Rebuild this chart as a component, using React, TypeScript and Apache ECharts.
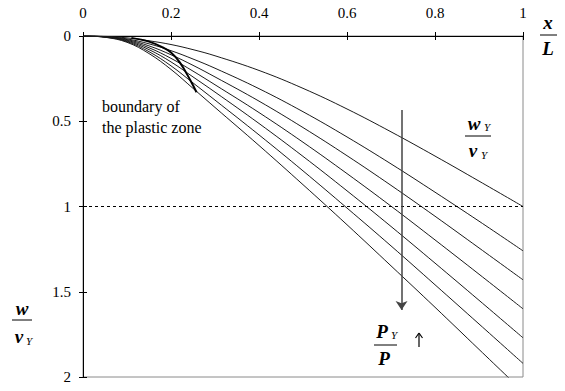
import React, { useEffect, useRef } from "react";
import * as echarts from "echarts";

// x/L positions at which the curves were read
const xs = [0, 0.05, 0.1, 0.15, 0.2, 0.25, 0.3, 0.4, 0.5, 0.6, 0.7, 0.8, 0.9, 1.0];
// w/vY for each load level (top: P = PY, then increasing load)
const curve1 = [0, 0.0022, 0.011, 0.028, 0.05, 0.08, 0.116, 0.202, 0.307, 0.428, 0.562, 0.704, 0.851, 1.0];
const curve2 = [0, 0.0035, 0.017, 0.046, 0.086, 0.135, 0.189, 0.309, 0.444, 0.592, 0.75, 0.916, 1.086, 1.26];
const curve3 = [0, 0.0045, 0.021, 0.058, 0.11, 0.172, 0.24, 0.382, 0.537, 0.702, 0.876, 1.057, 1.243, 1.43];
const curve4 = [0, 0.005, 0.025, 0.069, 0.131, 0.206, 0.286, 0.449, 0.623, 0.807, 0.998, 1.196, 1.397, 1.6];
const curve5 = [0, 0.0058, 0.029, 0.08, 0.152, 0.24, 0.329, 0.513, 0.706, 0.908, 1.117, 1.332, 1.55, 1.77];
const curve6 = [0, 0.0066, 0.033, 0.092, 0.175, 0.275, 0.376, 0.58, 0.791, 1.009, 1.231, 1.459, 1.689, 1.92];
const curve7 = [0, 0.0074, 0.037, 0.103, 0.196, 0.307, 0.419, 0.642, 0.872, 1.107, 1.348, 1.591, 1.838, 2.085];
const curves = [curve1, curve2, curve3, curve4, curve5, curve6, curve7];

// boundary of the plastic zone
const boundaryX = [0.11, 0.15, 0.18, 0.2, 0.22, 0.243, 0.258];
const boundaryW = [0.011, 0.033, 0.065, 0.097, 0.155, 0.255, 0.33];

// yield deflection level (dotted) and load arrow
const yieldLevel = 1;
const arrowX = 0.724;
const arrowFrom = 0.434;
const arrowTo = 1.607;

const xTickLabels = ["0", "0.2", "0.4", "0.6", "0.8", "1"];
const yTickLabels = ["0", "0.5", "1", "1.5", "2"];

const SERIF = "Liberation Serif";

function txt(text: string, x: number, y: number, size: number, opts: any = {}) {
  return {
    type: "text",
    x,
    y,
    silent: true,
    style: {
      text,
      fontFamily: SERIF,
      fontSize: size,
      fontWeight: opts.bold ? "bold" : "normal",
      fontStyle: opts.italic ? "italic" : "normal",
      fill: "#000",
      align: opts.align || "center",
      verticalAlign: "middle",
    },
  };
}
function seg(x1: number, y1: number, x2: number, y2: number, w = 1) {
  return {
    type: "line",
    silent: true,
    shape: { x1, y1, x2, y2 },
    style: { stroke: "#000", lineWidth: w },
  };
}
function bar(x1: number, x2: number, y: number) {
  return seg(x1, y, x2, y, 1);
}

export default function App() {
  const ref = useRef<HTMLDivElement>(null);
  useEffect(() => {
    document.body.style.margin = "0";
    if (!ref.current) return;
    const chart = echarts.init(ref.current, undefined, { renderer: "svg" });
    const curveSeries = curves.map((c, i) => ({
      type: "line",
      name: "c" + (i + 1),
      data: xs.map((x, j) => [x, c[j]]),
      showSymbol: false,
      smooth: 0.4,
      clip: true,
      lineStyle: { color: "#1a1a1a", width: 1 },
      silent: true,
    }));
    const option: any = {
      animation: false,
      textStyle: { fontFamily: SERIF },
      grid: {
        left: 83,
        top: 36,
        width: 440,
        height: 341,
        show: true,
        borderColor: "#8a8a8a",
        borderWidth: 1,
        backgroundColor: "transparent",
      },
      xAxis: [
        {
          type: "value",
          position: "top",
          min: 0,
          max: 1,
          interval: 0.2,
          axisLine: { show: true, lineStyle: { color: "#000", width: 1 } },
          axisTick: { show: true, length: 4, lineStyle: { color: "#000" } },
          axisLabel: {
            color: "#000",
            fontFamily: SERIF,
            fontSize: 15,
            margin: 16,
            formatter: (v: number) => xTickLabels[Math.round(v / 0.2)],
          },
          splitLine: { show: false },
        },
        {
          type: "value",
          position: "top",
          min: 0,
          max: 1,
          interval: 0.2,
          axisLine: { show: false },
          axisTick: { show: true, inside: true, length: 4, lineStyle: { color: "#000" } },
          axisLabel: { show: false },
          splitLine: { show: false },
        },
      ],
      yAxis: [
        {
          type: "value",
          inverse: true,
          min: 0,
          max: 2,
          interval: 0.5,
          axisLine: { show: true, lineStyle: { color: "#000", width: 1 } },
          axisTick: { show: true, length: 4, lineStyle: { color: "#000" } },
          axisLabel: {
            color: "#000",
            fontFamily: SERIF,
            fontSize: 15,
            margin: 12,
            formatter: (v: number) => yTickLabels[Math.round(v / 0.5)],
          },
          splitLine: { show: false },
        },
        {
          type: "value",
          inverse: true,
          position: "left",
          min: 0,
          max: 2,
          interval: 0.5,
          axisLine: { show: false },
          axisTick: { show: true, inside: true, length: 4, lineStyle: { color: "#000" } },
          axisLabel: { show: false },
          splitLine: { show: false },
        },
      ],
      series: [
        ...curveSeries,
        {
          type: "line",
          name: "boundary",
          data: boundaryX.map((x, j) => [x, boundaryW[j]]),
          showSymbol: false,
          smooth: 0.4,
          lineStyle: { color: "#000", width: 2 },
          silent: true,
        },
        {
          type: "line",
          name: "yield",
          data: [
            [0, yieldLevel],
            [1, yieldLevel],
          ],
          showSymbol: false,
          lineStyle: { color: "#000", width: 1, type: [3, 3] },
          silent: true,
          markLine: {
            silent: true,
            symbol: ["none", "arrow"],
            symbolSize: 9,
            label: { show: false },
            lineStyle: { color: "#444", width: 1.5, type: "solid" },
            itemStyle: { color: "#444" },
            data: [[{ coord: [arrowX, arrowFrom] }, { coord: [arrowX, arrowTo] }]],
          },
        },
      ],
      graphic: [
        txt("boundary of", 102, 106, 16, { align: "left" }),
        txt("the plastic zone", 102, 127, 16, { align: "left" }),
        // x / L
        txt("x", 548, 22, 19, { bold: true, italic: true }),
        bar(540, 557, 35),
        txt("L", 548, 48, 19, { bold: true, italic: true }),
        // wY / vY
        txt("w", 474, 123, 19, { bold: true, italic: true }),
        txt("Y", 487, 127, 11, { italic: true }),
        bar(465, 491, 136),
        txt("v", 473, 150, 19, { bold: true, italic: true }),
        txt("Y", 484, 155, 11, { italic: true }),
        // w / vY (axis title)
        txt("w", 22, 308, 19, { bold: true, italic: true }),
        bar(12, 32, 320),
        txt("v", 19, 336, 19, { bold: true, italic: true }),
        txt("Y", 29, 341, 11, { italic: true }),
        // PY / P
        txt("P", 382, 331, 19, { bold: true, italic: true }),
        txt("Y", 394, 335, 11, { italic: true }),
        bar(374, 397, 345),
        txt("P", 384, 358, 19, { bold: true, italic: true }),
        // up arrow
        seg(419, 347, 419, 334, 1.2),
        seg(419, 333, 415.5, 338, 1.2),
        seg(419, 333, 422.5, 338, 1.2),
      ],
    };
    chart.setOption(option);
    return () => chart.dispose();
  }, []);
  return <div ref={ref} style={{ width: 565, height: 391 }} />;
}
